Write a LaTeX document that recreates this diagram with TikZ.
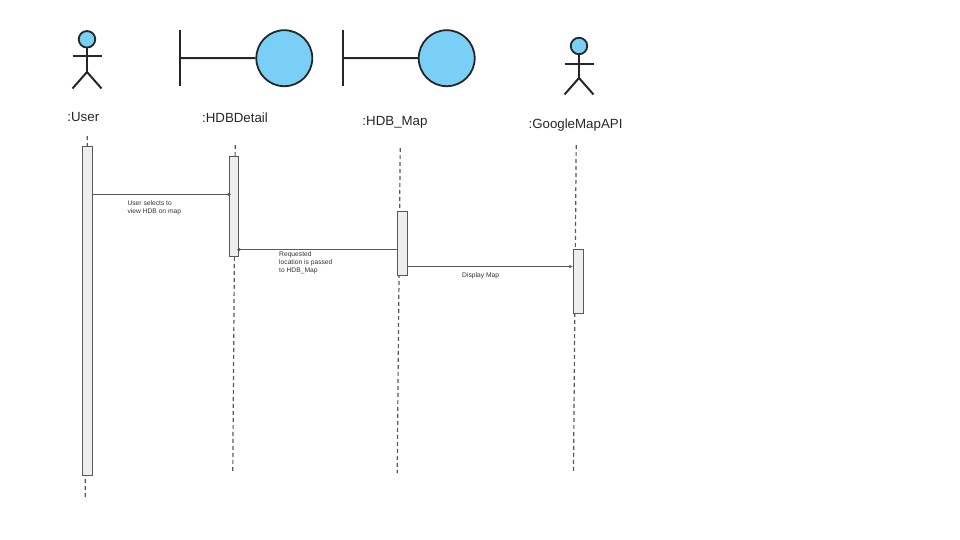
\documentclass[tikz,border=0pt]{standalone}
\usepackage{fontspec}
\setmainfont{Liberation Sans}
\usepackage{xcolor}
\usetikzlibrary{arrows.meta,calc,positioning}
\definecolor{headblue}{HTML}{7ACFF7}
\definecolor{barfill}{HTML}{EEEEEE}
\definecolor{barline}{HTML}{595959}
\definecolor{inkline}{HTML}{262626}
\tikzset{
  head/.style={circle,draw=inkline,fill=headblue,line width=1.8pt,inner sep=0pt,minimum size=#1},
  stick/.style={inkline,line width=2pt},
  objlabel/.style={inner sep=0pt,text=black!85,font=\fontsize{13.3}{16}\selectfont},
  msglabel/.style={inner sep=0pt,anchor=north west,align=left,text=black!80,font=\fontsize{6.7}{8}\selectfont},
  lifeline/.style={black!65,line width=1.2pt,dash pattern=on 4pt off 3pt},
  actbar/.style={draw=barline,fill=barfill,line width=1.2pt,inner sep=0pt,minimum width=#1},
  msgline/.style={barline,line width=1pt,-{Latex[length=3.5pt,width=3.5pt]}},
}
\begin{document}
\begin{tikzpicture}[x=1pt,y=-1pt]
  \useasboundingbox (0,0) rectangle (960,540);

  % user actor
  \node[head=16.5pt] (userhead) at (87,39.3) {};
  \coordinate (userhip) at (87,72);
  \coordinate (userarm) at (87,56);
  \draw[stick] (userhead) -- (userhip);
  \draw[stick] ($(userarm)+(-14.5,0)$) -- ($(userarm)+(14.5,0)$);
  \draw[stick] ($(userhip)+(-14.5,16.5)$) -- (userhip) -- ($(userhip)+(14.5,16.5)$);

  % boundary objects
  \node[head=56pt] (detailcircle) at (284.3,58.2) {};
  \node[head=56pt] (mapcircle) at (446.7,58.2) {};
  \coordinate (detailbar) at (180,58);
  \coordinate (mapbar) at (343,58);
  \draw[stick] (detailbar) -- (detailcircle.west);
  \draw[stick] (mapbar) -- (mapcircle.west);
  \draw[stick] ($(detailbar)+(0,-28)$) -- ($(detailbar)+(0,28)$);
  \draw[stick] ($(mapbar)+(0,-28)$) -- ($(mapbar)+(0,28)$);

  % api actor
  \node[head=16.5pt] (apihead) at (579,46) {};
  \coordinate (apihip) at (579,78);
  \coordinate (apiarm) at (579,64);
  \draw[stick] (apihead) -- (apihip);
  \draw[stick] ($(apiarm)+(-14.5,0)$) -- ($(apiarm)+(14.5,0)$);
  \draw[stick] ($(apihip)+(-14.5,16.5)$) -- (apihip) -- ($(apihip)+(14.5,16.5)$);

  % object names
  \node[objlabel] (userlabel) at (83.3,116.6) {:User};
  \node[objlabel] (detaillabel) at (235,117.6) {:HDBDetail};
  \node[objlabel] (maplabel) at (395,122) {:HDB\_Map};
  \node[objlabel] (apilabel) at (575.5,125) {:GoogleMapAPI};

  % lifelines
  \coordinate (usertop) at (87.3,136);
  \coordinate (userend) at (85.2,497);
  \coordinate (detailtop) at (235.2,145);
  \coordinate (detailend) at (232.8,471);
  \coordinate (maptop) at (400.2,148);
  \coordinate (mapend) at (397.2,473);
  \coordinate (apitop) at (576.2,145);
  \coordinate (apiend) at (573.5,471);
  \draw[lifeline] (usertop) -- (userend);
  \draw[lifeline] (detailtop) -- (detailend);
  \draw[lifeline] (maptop) -- (mapend);
  \draw[lifeline] (apitop) -- (apiend);

  % activation bars
  \node[actbar=10.3pt,minimum height=328.7pt] (userbox) at (87.3,310.9) {};
  \node[actbar=9pt,minimum height=100pt] (detailbox) at (234,206.2) {};
  \node[actbar=10pt,minimum height=64pt] (mapbox) at (402.5,243.6) {};
  \node[actbar=10pt,minimum height=64pt] (apibox) at (578.5,281.5) {};

  % messages
  \coordinate (msgone) at (0,194.4);
  \coordinate (msgtwo) at (0,249.6);
  \coordinate (msgthree) at (0,266.5);
  \draw[msgline] (userbox.east |- msgone) -- ($(detailbox.west |- msgone)+(2.5,0)$);
  \draw[msgline] (mapbox.west |- msgtwo) -- ($(detailbox.east |- msgtwo)+(-2.5,0)$);
  \draw[msgline] (mapbox.east |- msgthree) -- (apibox.west |- msgthree);

  % message texts
  \node[msglabel] (msgonetext) at (127.3,200.3) {User selects to\\view HDB on map};
  \node[msglabel] (msgtwotext) at (279,251.3) {Requested\\location is passed\\to HDB\_Map};
  \node[msglabel] (msgthreetext) at (462,272) {Display Map};
\end{tikzpicture}
\end{document}
